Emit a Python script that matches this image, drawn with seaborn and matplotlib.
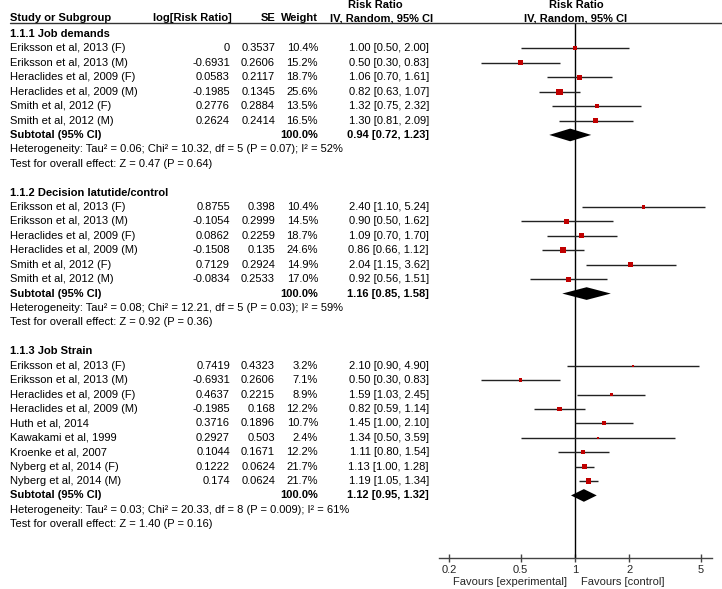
import numpy as np
import pandas as pd
import matplotlib.pyplot as plt
import matplotlib.transforms as mtransforms
from matplotlib.lines import Line2D
import seaborn as sns

# values
group_names = ["1.1.1 Job demands", "1.1.2 Decision latutide/control", "1.1.3 Job Strain"]

jd_study = ["Eriksson et al, 2013 (F)", "Eriksson et al, 2013 (M)", "Heraclides et al, 2009 (F)",
            "Heraclides et al, 2009 (M)", "Smith et al, 2012 (F)", "Smith et al, 2012 (M)"]
jd_logrr = [0, -0.6931, 0.0583, -0.1985, 0.2776, 0.2624]
jd_se = [0.3537, 0.2606, 0.2117, 0.1345, 0.2884, 0.2414]
jd_weight = [10.4, 15.2, 18.7, 25.6, 13.5, 16.5]
jd_rr = [1.00, 0.50, 1.06, 0.82, 1.32, 1.30]
jd_lo = [0.50, 0.30, 0.70, 0.63, 0.75, 0.81]
jd_hi = [2.00, 0.83, 1.61, 1.07, 2.32, 2.09]

dl_study = ["Eriksson et al, 2013 (F)", "Eriksson et al, 2013 (M)", "Heraclides et al, 2009 (F)",
            "Heraclides et al, 2009 (M)", "Smith et al, 2012 (F)", "Smith et al, 2012 (M)"]
dl_logrr = [0.8755, -0.1054, 0.0862, -0.1508, 0.7129, -0.0834]
dl_se = [0.398, 0.2999, 0.2259, 0.135, 0.2924, 0.2533]
dl_weight = [10.4, 14.5, 18.7, 24.6, 14.9, 17.0]
dl_rr = [2.40, 0.90, 1.09, 0.86, 2.04, 0.92]
dl_lo = [1.10, 0.50, 0.70, 0.66, 1.15, 0.56]
dl_hi = [5.24, 1.62, 1.70, 1.12, 3.62, 1.51]

js_study = ["Eriksson et al, 2013 (F)", "Eriksson et al, 2013 (M)", "Heraclides et al, 2009 (F)",
            "Heraclides et al, 2009 (M)", "Huth et al, 2014", "Kawakami et al, 1999",
            "Kroenke et al, 2007", "Nyberg et al, 2014 (F)", "Nyberg et al, 2014 (M)"]
js_logrr = [0.7419, -0.6931, 0.4637, -0.1985, 0.3716, 0.2927, 0.1044, 0.1222, 0.174]
js_se = [0.4323, 0.2606, 0.2215, 0.168, 0.1896, 0.503, 0.1671, 0.0624, 0.0624]
js_weight = [3.2, 7.1, 8.9, 12.2, 10.7, 2.4, 12.2, 21.7, 21.7]
js_rr = [2.10, 0.50, 1.59, 0.82, 1.45, 1.34, 1.11, 1.13, 1.19]
js_lo = [0.90, 0.30, 1.03, 0.59, 1.00, 0.50, 0.80, 1.00, 1.05]
js_hi = [4.90, 0.83, 2.45, 1.14, 2.10, 3.59, 1.54, 1.28, 1.34]

sub_rr = [0.94, 1.16, 1.12]
sub_lo = [0.72, 0.85, 0.95]
sub_hi = [1.23, 1.58, 1.32]

het_text = ["Heterogeneity: Tau² = 0.06; Chi² = 10.32, df = 5 (P = 0.07); I² = 52%",
            "Heterogeneity: Tau² = 0.08; Chi² = 12.21, df = 5 (P = 0.03); I² = 59%",
            "Heterogeneity: Tau² = 0.03; Chi² = 20.33, df = 8 (P = 0.009); I² = 61%"]
test_text = ["Test for overall effect: Z = 0.47 (P = 0.64)",
             "Test for overall effect: Z = 0.92 (P = 0.36)",
             "Test for overall effect: Z = 1.40 (P = 0.16)"]

tick_vals = [0.2, 0.5, 1, 2, 5]
tick_labels = ["0.2", "0.5", "1", "2", "5"]

groups = [
    (jd_study, jd_logrr, jd_se, jd_weight, jd_rr, jd_lo, jd_hi),
    (dl_study, dl_logrr, dl_se, dl_weight, dl_rr, dl_lo, dl_hi),
    (js_study, js_logrr, js_se, js_weight, js_rr, js_lo, js_hi),
]

sns.set_theme(style="white")
plt.rcParams['font.family'] = ['Liberation Sans', 'DejaVu Sans']
FS = 8
W, H = 722, 589

fig = plt.figure(figsize=(W / 100, H / 100), dpi=100)
ax = fig.add_axes([439 / W, 1 - 558 / H, 273 / W, (558 - 23) / H])

# rows of the table: 14.42 px apart, first row at pixel y=34
def prow(y):
    return (y - 34) / 14.42

trans = mtransforms.blended_transform_factory(fig.transFigure, ax.transData)

def put(xpx, row, s, ha='left', bold=False):
    ax.text(xpx / W, row, s, transform=trans, ha=ha, va='center', fontsize=FS,
            fontweight='bold' if bold else 'normal', color='black', clip_on=False)

# column headers
put(10, prow(18), "Study or Subgroup", bold=True)
put(232, prow(18), "log[Risk Ratio]", ha='right', bold=True)
put(275, prow(18), "SE", ha='right', bold=True)
put(318, prow(18), "Weight", ha='right', bold=True)
put(433, prow(18), "IV, Random, 95% CI", ha='right', bold=True)
put(375, prow(5), "Risk Ratio", ha='center', bold=True)
put(576, prow(18), "IV, Random, 95% CI", ha='center', bold=True)
put(576, prow(5), "Risk Ratio", ha='center', bold=True)
fig.add_artist(Line2D([10 / W, 1], [1 - 23 / H] * 2, transform=fig.transFigure,
                      color='#333333', lw=1))

rows = []
row = 0
for gi, (study, logrr, se, weight, rr, lo, hi) in enumerate(groups):
    put(10, row, group_names[gi], bold=True)
    row += 1
    for k in range(len(study)):
        put(10, row, study[k])
        put(230, row, f"{logrr[k]:g}", ha='right')
        put(275, row, f"{se[k]:g}", ha='right')
        put(318, row, f"{weight[k]:.1f}%", ha='right')
        put(429, row, f"{rr[k]:.2f} [{lo[k]:.2f}, {hi[k]:.2f}]", ha='right')
        rows.append(dict(y=row, rr=rr[k], lo=lo[k], hi=hi[k], weight=weight[k]))
        row += 1
    # subtotal
    put(10, row, "Subtotal (95% CI)", bold=True)
    put(318, row, "100.0%", ha='right', bold=True)
    put(429, row, f"{sub_rr[gi]:.2f} [{sub_lo[gi]:.2f}, {sub_hi[gi]:.2f}]", ha='right', bold=True)
    r, l, h = sub_rr[gi], sub_lo[gi], sub_hi[gi]
    ax.fill([l, r, h, r], [row, row - 0.44, row, row + 0.44], color='black', lw=0, zorder=4)
    row += 1
    put(10, row, het_text[gi])
    row += 1
    put(10, row, test_text[gi])
    row += 2

df = pd.DataFrame(rows)

ax.hlines(df['y'], df['lo'], df['hi'], color='#222222', lw=1, zorder=2)
sns.scatterplot(data=df, x='rr', y='y', size='weight', sizes=(0, 0.75 * 30), size_norm=(0, 30),
                marker='s', color='#c00000', linewidth=0, legend=False, ax=ax, zorder=3)

ax.axvline(1, color='black', lw=1, zorder=1)

ax.set_xscale('log')
ax.set_xlim(0.2 * np.exp(-10 / 78.3), 5 * np.exp(11 / 78.3))
ax.set_ylim(prow(558), prow(23))
ax.set_xticks(tick_vals)
ax.set_xticklabels(tick_labels)
ax.minorticks_off()
ax.set_yticks([])
ax.set_xlabel('')
ax.set_ylabel('')
for s in ['top', 'left', 'right']:
    ax.spines[s].set_visible(False)
ax.spines['bottom'].set_color('#444444')
ax.spines['bottom'].set_linewidth(1)
ax.tick_params(axis='x', direction='inout', length=6, width=1, color='#444444',
               labelsize=FS, pad=2, bottom=True)
ax.set_facecolor('none')

fig.text(567 / W, 1 - 582 / H, "Favours [experimental]", ha='right', va='center', fontsize=FS)
fig.text(581 / W, 1 - 582 / H, "Favours [control]", ha='left', va='center', fontsize=FS)

fig.savefig("out.png", dpi=100)
